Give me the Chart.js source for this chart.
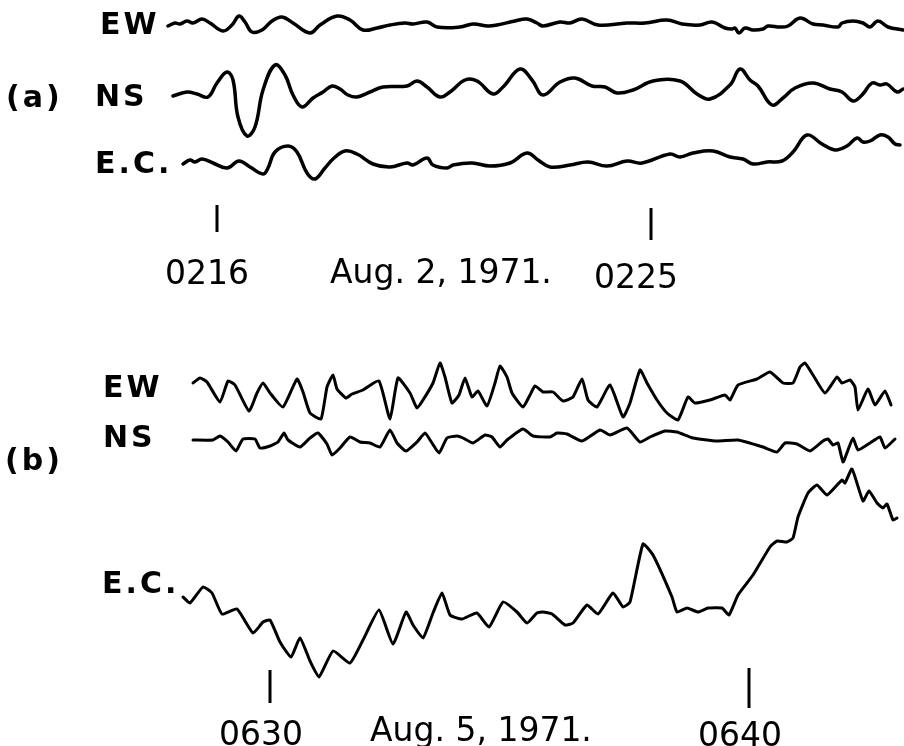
<!DOCTYPE html>
<html>
<head>
<meta charset="utf-8">
<script src="https://cdn.jsdelivr.net/npm/chart.js@4/dist/chart.umd.min.js"></script>
<style>
  html, body { margin: 0; padding: 0; background: #fff; }
  #wrap { width: 904px; height: 746px; }
</style>
</head>
<body>
<div id="wrap"><canvas id="seis" width="904" height="746"></canvas></div>
<script>
// Record traces: [position along record, pen deflection]
// (a) Aug. 2, 1971
const ewA = [[168,26],[175,23],[180,24],[187,21],[193,23],[202,19],[210,23],[223,31],[232,25],[239,16],
  [245,22],[252,32],[262,30],[272,21],[282,17],[293,23],[310,33],[320,25],[337,16],[350,20],
  [363,30],[377,28],[390,25],[405,23],[413,24],[427,22],[437,27],[460,27],[473,24],[488,26],
  [497,25],[515,21],[527,19],[537,23],[543,26],[560,22],[570,23],[582,19],[598,25],[627,23],
  [645,23],[667,20],[682,24],[700,25],[712,22],[725,28],[732,29],[735,28],[739,33],[745,28],
  [753,30],[763,29],[768,26],[780,27],[788,26],[800,18],[813,24],[823,25],[838,27],[842,23],
  [853,21],[863,23],[870,27],[878,21],[888,27],[903,30]];
const nsA = [[173,96],[187,92],[197,94],[208,97],[217,83],[227,72],[233,80],[238,117],[247,136],[255,127],
  [263,90],[275,65],[285,75],[293,95],[302,107],[313,98],[323,92],[332,86],[340,89],[348,95],
  [357,97],[370,92],[383,87],[407,86],[417,81],[427,87],[440,97],[450,92],[465,80],[477,81],
  [493,94],[503,87],[520,69],[532,80],[543,95],[560,82],[575,78],[592,86],[605,87],[617,93],
  [633,90],[653,81],[680,81],[697,94],[710,99],[730,85],[740,69],[750,80],[758,86],[772,105],
  [783,98],[795,88],[813,83],[830,89],[842,92],[853,101],[862,95],[872,83],[880,85],[887,84],
  [897,92],[903,89]];
const ecA = [[183,164],[190,160],[195,162],[202,159],[213,163],[227,168],[239,161],[250,167],[263,174],[268,168],
  [275,152],[288,146],[297,152],[307,173],[315,179],[325,168],[333,159],[345,151],[357,154],[373,164],
  [390,167],[407,163],[413,165],[427,158],[433,165],[447,168],[453,165],[472,163],[490,166],[510,163],
  [527,153],[538,160],[550,167],[570,165],[588,162],[607,166],[627,161],[642,163],[670,154],[680,157],
  [693,153],[713,151],[730,157],[743,159],[753,164],[767,162],[782,161],[793,152],[807,135],[822,144],
  [835,150],[847,146],[857,138],[863,142],[870,141],[880,135],[888,137],[895,144],[900,145]];

// (b) Aug. 5, 1971
const ewB = [[193,383],[200,378],[207,382],[220,402],[228,381],[235,385],[249,411],[257,393],[263,383],[270,393],
  [283,407],[297,379],[303,392],[310,413],[321,419],[327,387],[333,375],[337,389],[346,398],[352,394],
  [363,390],[379,381],[390,419],[398,378],[410,393],[417,408],[423,400],[433,383],[440,363],[445,377],
  [452,403],[459,395],[465,378],[472,397],[478,391],[487,406],[495,383],[500,366],[507,377],[512,393],
  [523,407],[530,395],[535,386],[543,392],[553,392],[563,401],[573,397],[582,379],[588,400],[597,407],
  [610,385],[623,417],[630,403],[640,370],[647,383],[657,400],[667,413],[678,420],[688,397],[695,403],
  [710,400],[725,395],[730,400],[738,385],[757,379],[770,372],[783,383],[793,383],[800,367],[805,363],
  [813,375],[825,393],[837,377],[842,383],[850,380],[855,387],[858,410],[868,389],[875,405],[885,391],
  [891,405]];
const nsB = [[193,440],[213,440],[220,436],[228,442],[236,451],[243,439],[255,439],[260,448],[270,446],[278,442],
  [284,433],[288,440],[300,447],[310,438],[318,433],[327,444],[332,455],[340,448],[350,437],[360,442],
  [370,443],[380,447],[390,430],[397,443],[406,451],[417,442],[425,433],[432,443],[439,453],[447,438],
  [457,436],[463,438],[473,443],[485,435],[492,437],[500,447],[507,440],[523,429],[533,436],[550,437],
  [557,433],[567,434],[582,441],[600,430],[610,435],[627,428],[640,442],[650,437],[665,431],[677,432],
  [693,438],[717,441],[738,440],[763,447],[777,452],[785,443],[797,444],[810,451],[823,441],[828,439],
  [833,445],[838,443],[843,462],[848,450],[853,438],[858,450],[870,443],[880,437],[885,448],[895,439]];
const ecB = [[183,597],[190,603],[203,587],[212,593],[222,614],[237,609],[253,633],[263,622],[270,620],[280,642],
  [291,657],[300,638],[310,661],[319,677],[333,651],[350,663],[363,640],[379,610],[393,644],[406,612],
  [413,625],[423,638],[433,613],[442,593],[450,615],[462,619],[477,613],[489,627],[503,602],[517,612],
  [527,623],[537,613],[543,612],[552,614],[565,625],[573,623],[587,605],[598,614],[613,593],[623,607],
  [630,602],[643,544],[653,555],[672,597],[677,612],[687,608],[698,612],[708,608],[722,608],[729,615],
  [738,595],[753,575],[770,547],[777,541],[787,542],[793,538],[798,517],[808,493],[817,485],[827,495],
  [842,480],[845,483],[852,469],[863,501],[869,491],[877,503],[883,508],[887,504],[893,520],[897,518]];

// time marks
const tickLabelsA = ['0216', '0225'];
const tickPosA = [217, 651];
const tickLabelsB = ['0630', '0640'];
const tickPosB = [270, 749];

// layout only
const tickSpanA = [[205, 232], [208, 240]];
const tickSpanB = [[670, 703], [668, 708]];

const BOLD = 'bold 30px "DejaVu Sans"';
const REG = '33px "DejaVu Sans"';
const texts = [
  { t: 'EW',   x: 100, y: 34,  f: BOLD, a: 'left' },
  { t: 'NS',   x: 95,  y: 106, f: BOLD, a: 'left' },
  { t: 'E.C.', x: 95,  y: 173, f: BOLD, a: 'left' },
  { t: '(a)',  x: 6,   y: 107, f: BOLD, a: 'left' },
  { t: tickLabelsA[0], x: 207, y: 284, f: REG, a: 'center' },
  { t: 'Aug. 2, 1971.', x: 330, y: 283, f: REG, a: 'left' },
  { t: tickLabelsA[1], x: 636, y: 288, f: REG, a: 'center' },
  { t: 'EW',   x: 103, y: 397, f: BOLD, a: 'left' },
  { t: 'NS',   x: 103, y: 447, f: BOLD, a: 'left' },
  { t: '(b)',  x: 5,   y: 470, f: BOLD, a: 'left' },
  { t: 'E.C.', x: 102, y: 593, f: BOLD, a: 'left' },
  { t: tickLabelsB[0], x: 261, y: 745, f: REG, a: 'center' },
  { t: 'Aug. 5, 1971.', x: 370, y: 741, f: REG, a: 'left' },
  { t: tickLabelsB[1], x: 740, y: 746, f: REG, a: 'center' }
];

function trace(pts, tension, width) {
  return {
    data: pts.map(p => ({ x: p[0], y: p[1] })),
    borderColor: '#000',
    borderWidth: width,
    pointRadius: 0,
    tension: tension,
    fill: false,
    borderCapStyle: 'round',
    borderJoinStyle: 'round'
  };
}

function tickMark(x, span) {
  return {
    data: [{ x: x, y: span[0] }, { x: x, y: span[1] }],
    borderColor: '#000',
    borderWidth: 3,
    pointRadius: 0,
    fill: false
  };
}

const datasets = [
  trace(ewA, 0.4, 3.5), trace(nsA, 0.4, 3.5), trace(ecA, 0.4, 3.5),
  trace(ewB, 0.15, 3), trace(nsB, 0.15, 3), trace(ecB, 0.15, 3)
];
tickPosA.forEach((x, i) => datasets.push(tickMark(x, tickSpanA[i])));
tickPosB.forEach((x, i) => datasets.push(tickMark(x, tickSpanB[i])));

const lettering = {
  id: 'lettering',
  afterDatasetsDraw(chart) {
    const ctx = chart.ctx;
    const sx = chart.scales.x, sy = chart.scales.y;
    ctx.save();
    ctx.fillStyle = '#000';
    ctx.textBaseline = 'alphabetic';
    texts.forEach(l => {
      ctx.font = l.f;
      ctx.textAlign = l.a;
      ctx.letterSpacing = l.f === BOLD ? '3px' : '0px';
      ctx.fillText(l.t, sx.getPixelForValue(l.x), sy.getPixelForValue(l.y));
    });
    ctx.restore();
  }
};

new Chart(document.getElementById('seis'), {
  type: 'line',
  data: { datasets },
  options: {
    responsive: false,
    animation: false,
    devicePixelRatio: 1,
    layout: { padding: 0 },
    plugins: { legend: { display: false }, tooltip: { enabled: false } },
    scales: {
      x: { type: 'linear', min: 0, max: 904, display: false },
      y: { type: 'linear', min: 0, max: 746, reverse: true, display: false }
    }
  },
  plugins: [lettering]
});
</script>
</body>
</html>
